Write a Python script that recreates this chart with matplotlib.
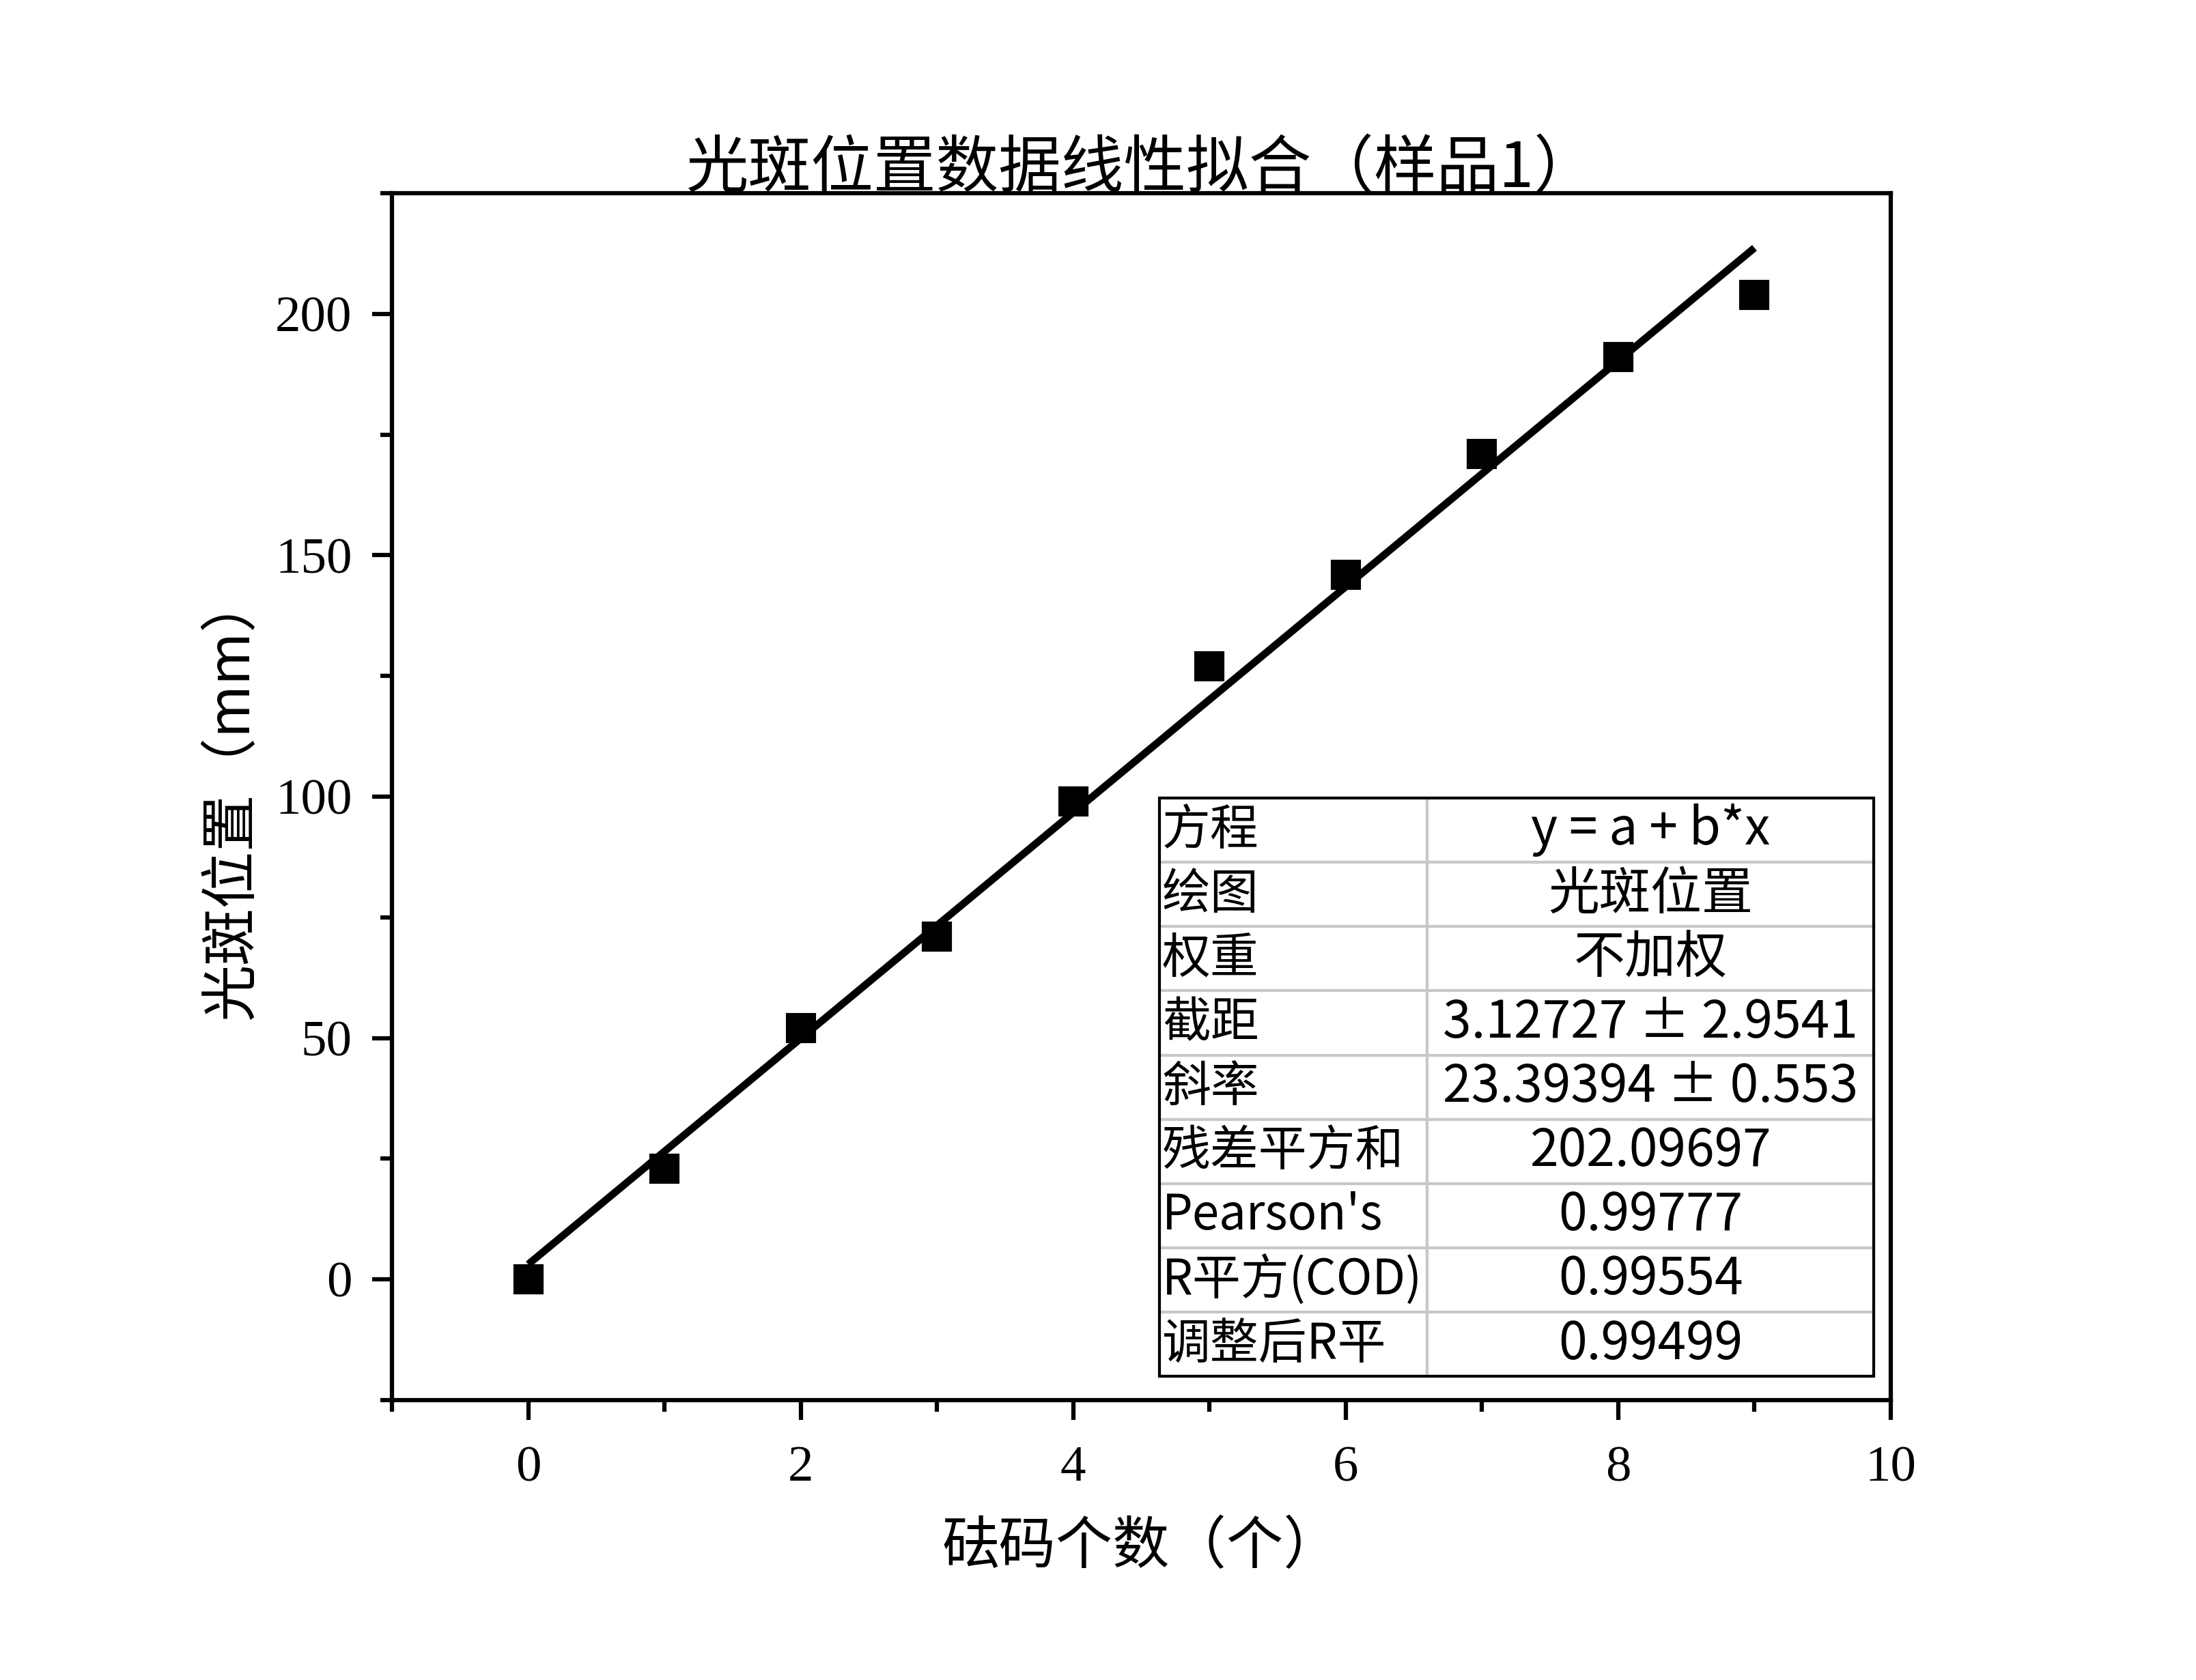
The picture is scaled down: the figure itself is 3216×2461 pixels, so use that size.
import matplotlib
matplotlib.use("Agg")
import matplotlib.pyplot as plt
import numpy as np
from matplotlib.ticker import MultipleLocator
from matplotlib.patches import Rectangle

# ---- data ----
weights = [0, 1, 2, 3, 4, 5, 6, 7, 8, 9]
positions = [0, 23, 52, 71, 99, 127, 146, 171, 191, 204]
intercept = 3.12727
slope = 23.39394

title = "光斑位置数据线性拟合（样品1）"
xlabel = "砝码个数（个）"
ylabel = "光斑位置（mm）"

row_labels = ["方程", "绘图", "权重", "截距", "斜率", "残差平方和", "Pearson's", "R平方(COD)", "调整后R平"]
row_values = ["y = a + b*x", "光斑位置", "不加权", "3.12727 ± 2.9541", "23.39394 ± 0.553",
              "202.09697", "0.99777", "0.99554", "0.99499"]

CJK = ["Noto Sans CJK SC", "DejaVu Sans"]
SERIF = ["Liberation Serif", "DejaVu Serif"]

W, H = 3216, 2461
dpi = 300
fig = plt.figure(figsize=(W / dpi, H / dpi), dpi=dpi)
ax = fig.add_axes([574 / W, 1 - 2051 / H, (2769 - 574) / W, (2051 - 283) / H])

x = np.array(weights)
fit_x = np.array([weights[0], weights[-1]])
fit_y = intercept + slope * fit_x
ax.plot(x, positions, linestyle="none", marker="s", markersize=9.5, color="black", zorder=3)
ax.plot(fit_x, fit_y, color="black", linewidth=2.6, zorder=4, solid_capstyle="butt")

ax.set_xlim(-1, 10)
ax.set_ylim(-25, 225)
ax.xaxis.set_major_locator(MultipleLocator(2))
ax.xaxis.set_minor_locator(MultipleLocator(1))
ax.yaxis.set_major_locator(MultipleLocator(50))
ax.yaxis.set_minor_locator(MultipleLocator(25))

for s in ax.spines.values():
    s.set_linewidth(1.5)
ax.tick_params(which="major", direction="out", length=7, width=1.5, labelsize=18)
ax.tick_params(axis="y", which="major", pad=7)
ax.tick_params(axis="x", which="major", pad=9)
ax.tick_params(which="minor", direction="out", length=4, width=1.5)
ax.tick_params(top=False, right=False, which="both")
for lab in ax.get_xticklabels() + ax.get_yticklabels():
    lab.set_fontfamily(SERIF)

ax.set_title(title, fontsize=22, family=CJK, y=1.0, pad=2)
ax.set_xlabel(xlabel, fontsize=20, family=CJK, labelpad=9)
ax.set_ylabel(ylabel, fontsize=20, family=CJK, labelpad=5)

# ---- statistics table ----
cell_text = [[a, b] for a, b in zip(row_labels, row_values)]
x0, x1 = (828 - 280) / 1070, (1338 - 280) / 1070
y0, y1 = (1000 - 983) / 862, (1000 - 570) / 862
xs = (1019 - 280) / 1070
tab = ax.table(cellText=cell_text, bbox=[x0, y0, x1 - x0, y1 - y0],
               colWidths=[xs - x0, x1 - xs], cellLoc="center", zorder=5)
tab.auto_set_font_size(False)
for (r, c), cell in tab.get_celld().items():
    cell.set_edgecolor("#c8c8c8")
    cell.set_linewidth(1.0)
    cell.set_facecolor("white")
    t = cell.get_text()
    t.set_fontfamily(CJK)
    if c == 0:
        t.set_fontsize(17)
        cell.set_text_props(ha="left")
        cell.PAD = 0.01
    else:
        t.set_fontsize(18)
        cell.set_text_props(ha="center")
ax.add_patch(Rectangle((x0, y0), x1 - x0, y1 - y0, transform=ax.transAxes,
                       fill=False, edgecolor="black", linewidth=1.0, zorder=6))

fig.savefig("out.png", dpi=dpi)
